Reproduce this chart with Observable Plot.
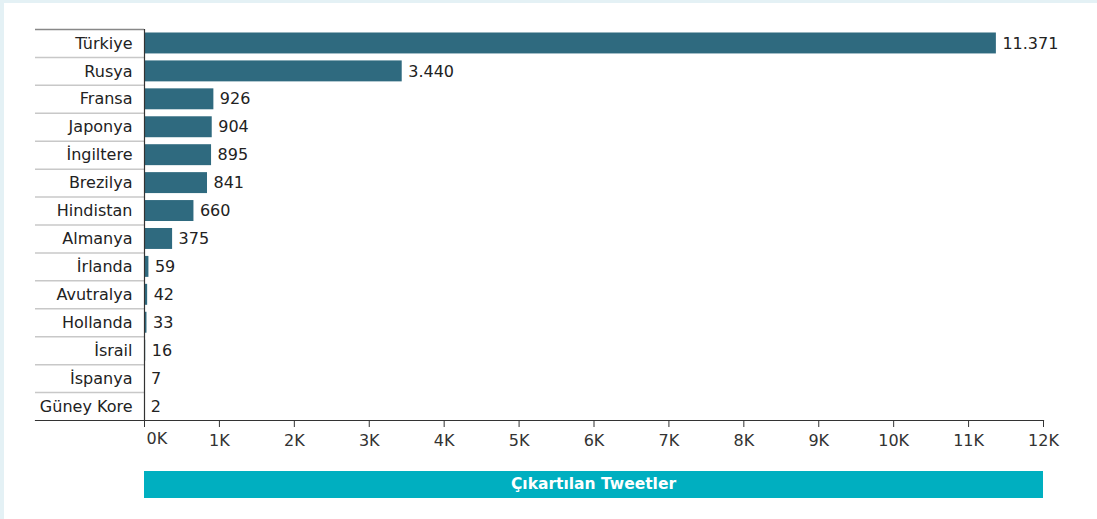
<!DOCTYPE html>
<html><head><meta charset="utf-8">
<script src="https://cdn.jsdelivr.net/npm/d3@7"></script>
<script src="https://cdn.jsdelivr.net/npm/@observablehq/plot@0.6"></script>
<style>
html,body{margin:0;padding:0;width:1097px;height:519px;overflow:hidden;background:#e4f1f5;font-family:"DejaVu Sans",sans-serif;}
#panel{position:absolute;left:4px;top:3px;right:0;bottom:0;background:#fff;}
#chart{position:absolute;left:0;top:0;}
#caption{position:absolute;left:144px;top:471px;width:899px;height:27px;background:#00afc0;color:#fff;font-weight:700;font-size:15.5px;line-height:27px;text-align:center;}
</style></head><body>
<div id="panel"></div><div id="chart"></div><div id="caption"></div>
<script>
const countries = ["Türkiye","Rusya","Fransa","Japonya","İngiltere","Brezilya","Hindistan","Almanya","İrlanda","Avutralya","Hollanda","İsrail","İspanya","Güney Kore"];
const tweets = [11371,3440,926,904,895,841,660,375,59,42,33,16,7,2];
const xTicks = [0,1000,2000,3000,4000,5000,6000,7000,8000,9000,10000,11000,12000];
const xTickLabels = ["0K","1K","2K","3K","4K","5K","6K","7K","8K","9K","10K","11K","12K"];
const captionText = "Çıkartılan Tweetler";

document.getElementById("caption").textContent = captionText;

const data = countries.map((c, i) => ({country: c, value: tweets[i]}));
const fmt = v => d3.format(",")(v).replace(/,/g, ".");
const W = 1097, H = 460, mL = 144, mR = 54, mT = 29, mB = 40;
const step = (H - mT - mB) / countries.length;
const xPerPx = 12000 / (W - mL - mR);
const leftX = -(mL - 35) * xPerPx;
const labelOf = d => xTickLabels[xTicks.indexOf(d)];
const FS = 16;

const chart = Plot.plot({
  width: W, height: H,
  marginLeft: mL, marginRight: mR, marginTop: mT, marginBottom: mB,
  style: {fontFamily: "'DejaVu Sans', sans-serif", fontSize: FS + "px", color: "#222", background: "transparent", overflow: "visible"},
  x: {domain: [0, 12000], label: null},
  y: {domain: countries, paddingInner: 0.25, paddingOuter: 0.125, round: false, label: null},
  marks: [
    Plot.ruleY(countries.slice(1), {y: d => d, dy: -step / 2, x1: leftX, x2: 0, stroke: "#c8c8c8", strokeWidth: 1.5}),
    Plot.ruleY(countries.slice(0, 1), {y: d => d, dy: -step / 2, x1: leftX, x2: 0, stroke: "#888", strokeWidth: 1.5}),
    Plot.barX(data, {x: "value", y: "country", fill: "#2f6a7f"}),
    Plot.text(data, {x: "value", y: "country", text: d => fmt(d.value), textAnchor: "start", dx: 6, fill: "#222", fontSize: FS}),
    Plot.ruleX([0], {stroke: "#333", strokeWidth: 1.2}),
    Plot.frame({anchor: "bottom", insetLeft: -(mL - 35), stroke: "#333", strokeWidth: 1.2}),
    Plot.axisY({tickSize: 0, tickPadding: 12, fontSize: FS, fill: "#222", label: null}),
    Plot.axisX({ticks: xTicks, tickSize: 7, tickPadding: 7, fontSize: FS, stroke: "#333", fill: "#333", label: null, tickFormat: d => d === 0 ? "" : labelOf(d)}),
    Plot.text([0], {x: d => d, frameAnchor: "bottom", text: d => labelOf(d), textAnchor: "start", dx: 2, dy: 23, fontSize: FS, fill: "#333"})
  ]
});
document.getElementById("chart").appendChild(chart);
</script>
</body></html>
